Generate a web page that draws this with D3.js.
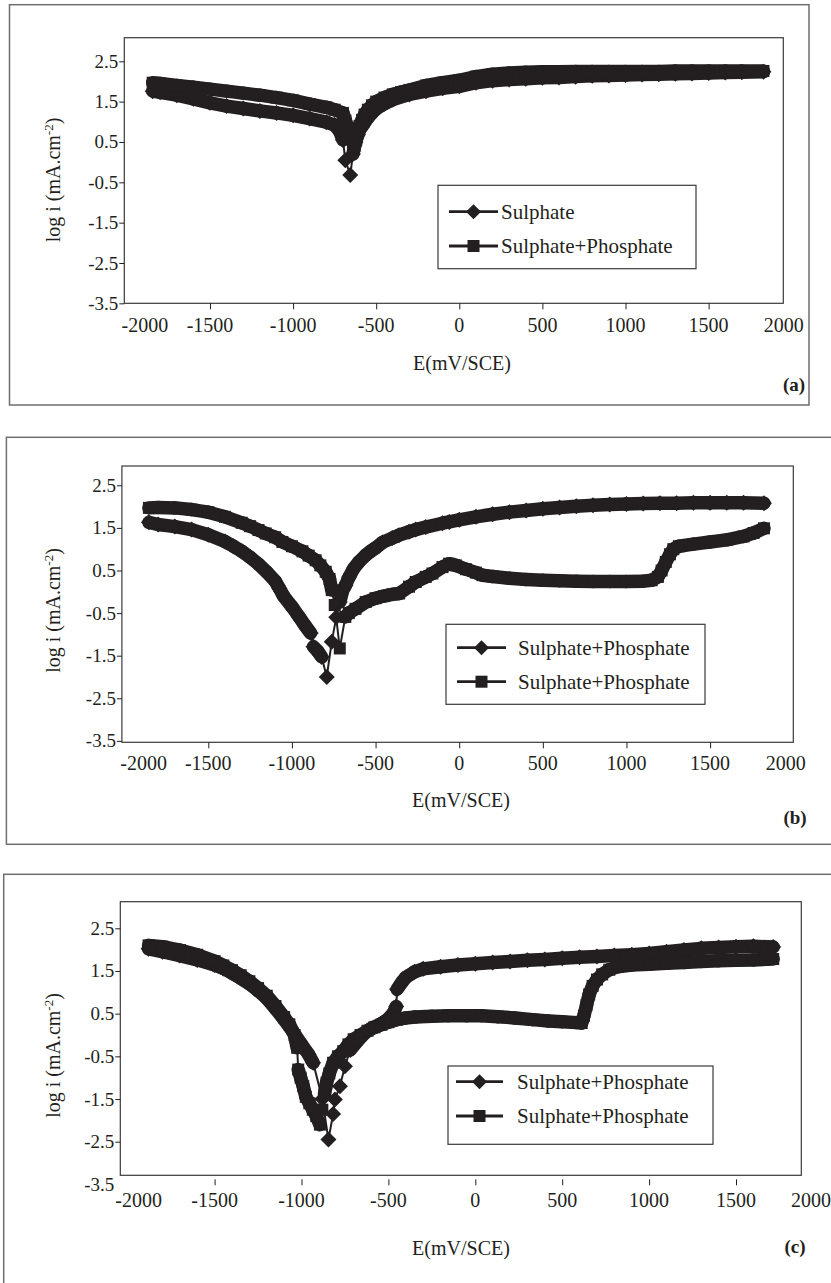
<!DOCTYPE html>
<html>
<head>
<meta charset="utf-8">
<script src="https://cdn.jsdelivr.net/npm/d3@7"></script>
<style>
body { margin: 0; background: #fff; }
</style>
</head>
<body>
<svg id="fig" width="831" height="1283" font-family="'Liberation Serif', 'Times New Roman', Times, serif"></svg>
<script>
var xTicks = [-2000, -1500, -1000, -500, 0, 500, 1000, 1500, 2000];
var yTicks = [2.5, 1.5, 0.5, -0.5, -1.5, -2.5, -3.5];

// [E (mV/SCE), log i]
var aSulphate = [[-1845,1.76],[-1800,1.73],[-1700,1.66],[-1600,1.57],[-1500,1.47],[-1400,1.39],[-1300,1.33],[-1200,1.27],[-1100,1.22],[-1000,1.16],[-900,1.08],[-800,0.99],[-750,0.92],[-720,0.77],[-700,0.55],[-686,0.05],[-656,-0.32],[-640,0.2],[-625,0.5],[-610,0.68],[-600,0.8],[-575,0.95],[-550,1.1],[-525,1.22],[-500,1.32],[-450,1.45],[-400,1.55],[-300,1.68],[-200,1.76],[-100,1.83],[0,1.88],[100,1.97],[200,2.02],[300,2.05],[400,2.07],[500,2.09],[600,2.10],[700,2.12],[800,2.14],[900,2.15],[1000,2.16],[1100,2.17],[1200,2.18],[1300,2.19],[1400,2.20],[1500,2.21],[1600,2.22],[1700,2.23],[1830,2.24]];
var aPhosphate = [[-1845,1.97],[-1800,1.95],[-1700,1.90],[-1600,1.86],[-1500,1.81],[-1400,1.76],[-1300,1.71],[-1200,1.66],[-1100,1.60],[-1000,1.53],[-900,1.44],[-800,1.36],[-750,1.30],[-700,1.22],[-685,1.03],[-670,0.85],[-655,0.65],[-640,0.48],[-630,0.4],[-620,0.55],[-610,0.75],[-600,0.9],[-585,1.05],[-570,1.18],[-550,1.3],[-525,1.41],[-500,1.5],[-450,1.6],[-400,1.68],[-350,1.74],[-300,1.79],[-200,1.9],[-100,1.97],[0,2.03],[100,2.12],[200,2.18],[300,2.21],[400,2.23],[500,2.24],[600,2.24],[700,2.25],[800,2.25],[900,2.25],[1000,2.25],[1100,2.25],[1200,2.25],[1300,2.26],[1400,2.26],[1500,2.26],[1600,2.26],[1700,2.26],[1830,2.26]];

var bSeries1 = [[-1855,1.63],[-1800,1.58],[-1700,1.53],[-1600,1.46],[-1500,1.34],[-1400,1.18],[-1350,1.07],[-1300,0.95],[-1250,0.81],[-1200,0.65],[-1150,0.46],[-1100,0.25],[-1075,0.08],[-1050,-0.1],[-1000,-0.35],[-957,-0.59],[-920,-0.8],[-888,-0.97],[-871,-1.29],[-845,-1.4],[-822,-1.53],[-792,-2.0],[-762,-1.17],[-735,-0.6],[-714,-0.24],[-695,0.05],[-680,0.15],[-658,0.35],[-630,0.55],[-600,0.7],[-559,0.86],[-530,0.95],[-500,1.03],[-459,1.16],[-400,1.26],[-360,1.33],[-300,1.41],[-260,1.46],[-200,1.52],[-100,1.61],[-60,1.64],[0,1.69],[100,1.76],[200,1.82],[300,1.87],[400,1.91],[500,1.95],[600,1.98],[700,2.01],[800,2.03],[900,2.05],[1000,2.06],[1100,2.07],[1200,2.08],[1300,2.08],[1400,2.09],[1500,2.09],[1600,2.09],[1700,2.09],[1822,2.08]];
var bSeries2 = [[-1855,1.97],[-1800,1.98],[-1700,1.97],[-1600,1.93],[-1500,1.87],[-1400,1.76],[-1300,1.62],[-1250,1.54],[-1200,1.45],[-1157,1.37],[-1100,1.28],[-1057,1.17],[-1000,1.07],[-937,0.95],[-900,0.85],[-858,0.74],[-830,0.62],[-798,0.47],[-775,0.3],[-762,0.04],[-744,-0.31],[-714,-1.33],[-681,-0.59],[-660,-0.5],[-620,-0.4],[-559,-0.24],[-500,-0.15],[-450,-0.1],[-400,-0.06],[-359,-0.04],[-300,0.12],[-260,0.23],[-200,0.35],[-160,0.43],[-100,0.58],[-60,0.66],[-20,0.62],[40,0.53],[100,0.45],[139,0.39],[200,0.36],[300,0.32],[400,0.29],[500,0.27],[600,0.26],[700,0.25],[800,0.24],[900,0.24],[1000,0.24],[1100,0.25],[1150,0.27],[1188,0.35],[1210,0.5],[1235,0.7],[1260,0.88],[1280,1.0],[1313,1.07],[1400,1.12],[1500,1.17],[1600,1.22],[1700,1.3],[1760,1.38],[1822,1.49]];

var cSeries1 = [[-1880,2.02],[-1800,1.95],[-1700,1.86],[-1600,1.76],[-1500,1.64],[-1450,1.56],[-1400,1.45],[-1350,1.33],[-1300,1.2],[-1250,1.04],[-1200,0.86],[-1150,0.62],[-1100,0.36],[-1050,0.08],[-1000,-0.22],[-960,-0.45],[-933,-0.65],[-880,-1.5],[-845,-2.45],[-818,-1.85],[-808,-1.51],[-779,-1.2],[-750,-0.73],[-720,-0.35],[-680,-0.15],[-635,0.05],[-600,0.15],[-540,0.27],[-500,0.38],[-470,0.52],[-455,0.67],[-450,1.07],[-420,1.25],[-400,1.35],[-350,1.48],[-300,1.55],[-200,1.6],[-100,1.64],[0,1.67],[100,1.70],[200,1.72],[300,1.75],[400,1.77],[500,1.80],[600,1.82],[700,1.84],[800,1.86],[900,1.88],[1000,1.91],[1100,1.95],[1200,1.99],[1300,2.03],[1400,2.05],[1500,2.07],[1600,2.08],[1714,2.06]];
var cSeries2 = [[-1880,2.1],[-1800,2.07],[-1700,1.99],[-1600,1.88],[-1500,1.73],[-1450,1.63],[-1400,1.52],[-1350,1.4],[-1300,1.26],[-1250,1.1],[-1200,0.92],[-1150,0.68],[-1100,0.42],[-1070,0.25],[-1040,0.0],[-1025,-0.3],[-1019,-0.81],[-1005,-1.0],[-990,-1.2],[-975,-1.45],[-955,-1.6],[-935,-1.75],[-915,-1.9],[-894,-2.1],[-880,-1.75],[-868,-1.4],[-856,-1.12],[-840,-0.9],[-818,-0.65],[-790,-0.5],[-760,-0.38],[-730,-0.22],[-700,-0.1],[-660,0.0],[-620,0.1],[-580,0.18],[-540,0.24],[-500,0.3],[-450,0.36],[-400,0.4],[-347,0.42],[-250,0.44],[-156,0.45],[-50,0.45],[36,0.45],[130,0.43],[228,0.4],[330,0.36],[419,0.33],[500,0.31],[583,0.29],[612,0.28],[625,0.45],[640,0.7],[655,0.95],[675,1.15],[700,1.3],[730,1.42],[771,1.53],[820,1.6],[900,1.64],[1000,1.66],[1100,1.68],[1200,1.7],[1300,1.72],[1400,1.74],[1500,1.75],[1600,1.76],[1714,1.78]];

var legendA = ["Sulphate", "Sulphate+Phosphate"];
var legendB = ["Sulphate+Phosphate", "Sulphate+Phosphate"];
var legendC = ["Sulphate+Phosphate", "Sulphate+Phosphate"];

var ink = "#231f20";

// page layout of the three stacked panels
var panels = [
  { tag: "(a)", series: [aSulphate, aPhosphate], names: legendA,
    box: [9.5, 4.7, 809, 405], frame: [124.3, 37.7, 783.3, 303.3],
    xa: [210, 708.6], ya: [61.3, 263], tickGap: 0, labelDy: 28.5, edge: [18, -8],
    xTitle: [462, 370], yTitle: 180, tagPos: [794, 391],
    legend: { box: [438, 185.3, 696, 268.7], rows: [211.7, 246], line: [449, 498], text: 501 } },
  { tag: "(b)", series: [bSeries1, bSeries2], names: legendB,
    box: [6.4, 437.3, 840, 844.3], frame: [121.9, 466, 793.3, 742.3],
    xa: [208.3, 710.1], ya: [485.3, 698.3], tickGap: 0, labelDy: 28, edge: [19, -8],
    xTitle: [461, 807], yTitle: 610.5, tagPos: [795, 824],
    legend: { box: [446, 624.3, 705, 704.3], rows: [647.7, 681.7], line: [457, 506], text: 518 } },
  { tag: "(c)", series: [cSeries1, cSeries2], names: legendC,
    box: [3.7, 874.3, 840, 1300], frame: [120.3, 901.7, 801.3, 1175.3],
    xa: [214.6, 736], ya: [928.3, 1141.7], tickGap: 4, labelDy: 32, edge: [11, -12],
    xTitle: [461, 1255], yTitle: 1055.5, tagPos: [795, 1253],
    legend: { box: [448, 1066, 713, 1144.3], rows: [1081.7, 1116], line: [456, 503], text: 517 } }
];

var svg = d3.select("#fig");

function diamondPath(r) {
  return "M0," + (-r) + "L" + r + ",0L0," + r + "L" + (-r) + ",0Z";
}

function marker(g, shape, cx, cy, s) {
  if (shape == "diamond") {
    g.append("path").attr("d", diamondPath(s)).attr("transform", "translate(" + cx + "," + cy + ")").attr("fill", ink);
  } else {
    g.append("rect").attr("x", cx - s).attr("y", cy - s).attr("width", 2 * s).attr("height", 2 * s).attr("fill", ink);
  }
}

function drawSeries(g, pts, x, y, shape) {
  var px = pts.map(d => [x(d[0]), y(d[1])]);
  g.append("path")
    .attr("d", d3.line()(px))
    .attr("fill", "none")
    .attr("stroke", ink)
    .attr("stroke-width", 2);
  // close-packed markers in the original merge into a solid band
  var dense = d3.pairs(px).filter(s => Math.abs(s[1][1] - s[0][1]) <= 13 && Math.abs(s[1][0] - s[0][0]) <= 24);
  g.selectAll(null).data(dense).join("line")
    .attr("x1", d => d[0][0]).attr("y1", d => d[0][1])
    .attr("x2", d => d[1][0]).attr("y2", d => d[1][1])
    .attr("stroke", ink).attr("stroke-width", 13.5).attr("stroke-linecap", "round");
  if (shape == "diamond") {
    g.selectAll(null).data(px).join("path")
      .attr("d", diamondPath(8))
      .attr("transform", d => "translate(" + d[0] + "," + d[1] + ")")
      .attr("fill", ink);
  } else {
    g.selectAll(null).data(px).join("rect")
      .attr("x", d => d[0] - 6).attr("y", d => d[1] - 6)
      .attr("width", 12).attr("height", 12)
      .attr("fill", ink);
  }
}

panels.forEach(function(p) {
  var g = svg.append("g");

  g.append("rect")
    .attr("x", p.box[0]).attr("y", p.box[1])
    .attr("width", p.box[2] - p.box[0]).attr("height", p.box[3] - p.box[1])
    .attr("fill", "none").attr("stroke", "#6d6e71").attr("stroke-width", 1.5);

  var xa = d3.scaleLinear().domain([-1500, 1500]).range(p.xa);
  var ya = d3.scaleLinear().domain([2.5, -2.5]).range(p.ya);
  var x = d3.scaleLinear().domain([xa.invert(p.frame[0]), xa.invert(p.frame[2])]).range([p.frame[0], p.frame[2]]);
  var y = d3.scaleLinear().domain([ya.invert(p.frame[3]), ya.invert(p.frame[1])]).range([p.frame[3], p.frame[1]]);

  g.append("rect")
    .attr("x", p.frame[0]).attr("y", p.frame[1])
    .attr("width", p.frame[2] - p.frame[0]).attr("height", p.frame[3] - p.frame[1])
    .attr("fill", "none").attr("stroke", "#3a3a3a").attr("stroke-width", 1.2);

  // ticks
  var xt = g.append("g")
    .attr("transform", "translate(0," + (p.frame[3] + p.tickGap) + ")")
    .call(d3.axisBottom(x).tickValues(xTicks.slice(1, -1)).tickSize(6).tickFormat(""));
  xt.select(".domain").remove();
  xt.selectAll("line").attr("stroke", ink);

  var yIn = yTicks.filter(v => v >= y.domain()[0] - 0.02 && v <= y.domain()[1]);
  var yt = g.append("g")
    .attr("transform", "translate(" + p.frame[0] + ",0)")
    .call(d3.axisLeft(y).tickValues(yIn).tickSize(5).tickFormat(""));
  yt.select(".domain").remove();
  yt.selectAll("line").attr("stroke", ink);

  // tick labels
  xTicks.forEach(function(v, i) {
    var shift = i == 0 ? p.edge[0] : (i == xTicks.length - 1 ? p.edge[1] : 0);
    g.append("text")
      .attr("x", xa(v) + shift).attr("y", p.frame[3] + p.labelDy)
      .attr("text-anchor", "middle").attr("font-size", "20px").attr("fill", ink)
      .text(v);
  });
  yTicks.forEach(function(v) {
    g.append("text")
      .attr("x", p.frame[0] - 6).attr("y", ya(v) + 6.5)
      .attr("text-anchor", "end").attr("font-size", "19px").attr("fill", ink)
      .text(d3.format(".1f")(v).replace("−", "-"));
  });

  // axis titles
  g.append("text")
    .attr("x", p.xTitle[0]).attr("y", p.xTitle[1])
    .attr("text-anchor", "middle").attr("font-size", "20px").attr("fill", ink)
    .text("E(mV/SCE)");
  var yl = g.append("text")
    .attr("transform", "translate(60," + p.yTitle + ") rotate(-90)")
    .attr("text-anchor", "middle").attr("font-size", "20px").attr("fill", ink);
  yl.append("tspan").text("log i (mA.cm");
  yl.append("tspan").attr("dy", -7).attr("font-size", "13px").text("-2");
  yl.append("tspan").attr("dy", 7).text(")");

  g.append("text")
    .attr("x", p.tagPos[0]).attr("y", p.tagPos[1])
    .attr("text-anchor", "middle").attr("font-size", "19px").attr("font-weight", "bold").attr("fill", ink)
    .text(p.tag);

  // curves
  drawSeries(g, p.series[0], x, y, "diamond");
  drawSeries(g, p.series[1], x, y, "square");

  // legend
  var L = p.legend;
  g.append("rect")
    .attr("x", L.box[0]).attr("y", L.box[1])
    .attr("width", L.box[2] - L.box[0]).attr("height", L.box[3] - L.box[1])
    .attr("fill", "#fff").attr("stroke", "#3a3a3a").attr("stroke-width", 1.2);
  p.names.forEach(function(name, i) {
    var ry = L.rows[i];
    g.append("line")
      .attr("x1", L.line[0]).attr("x2", L.line[1]).attr("y1", ry).attr("y2", ry)
      .attr("stroke", ink).attr("stroke-width", 2.8);
    marker(g, i == 0 ? "diamond" : "square", (L.line[0] + L.line[1]) / 2, ry, i == 0 ? 7.5 : 6);
    g.append("text")
      .attr("x", L.text).attr("y", ry + 7)
      .attr("font-size", "21px").attr("fill", ink)
      .text(name);
  });
});
</script>
</body>
</html>
